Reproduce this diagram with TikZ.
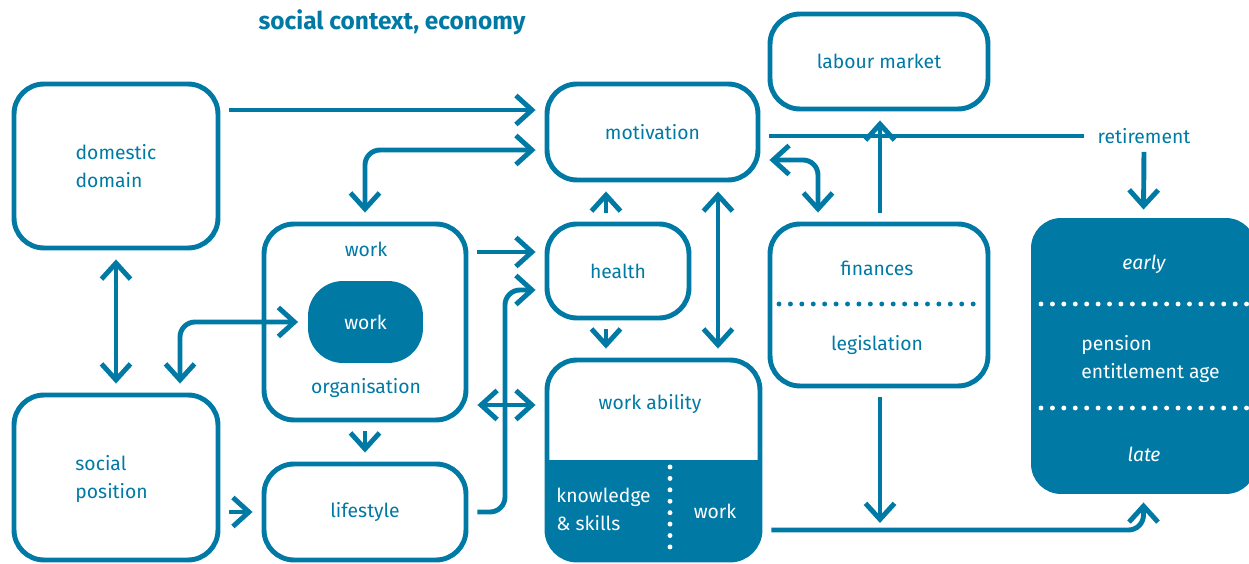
\documentclass[tikz,border=0pt]{standalone}
\usepackage{fontspec}
\setmainfont{Fira Sans}
\usetikzlibrary{arrows.meta}
\definecolor{bmblue}{RGB}{0,121,164}

\begin{document}
\begin{tikzpicture}[x=0.02cm, y=-0.02cm, line width=2.8pt,
  every node/.style={font=\fontsize{11}{16}\selectfont},
  box/.style={draw=bmblue, rounded corners=0.6cm, text=bmblue, align=left, inner sep=0pt},
  solidbox/.style={fill=bmblue, rounded corners=0.6cm, text=white, inner sep=0pt},
  lbl/.style={text=bmblue},
  wlbl/.style={text=white},
  con/.style={draw=bmblue, shorten <=0.18cm, shorten >=0.18cm},
  arr/.style={con, -{Straight Barb[length=3.2mm,width=5.8mm]}},
  dbl/.style={con, {Straight Barb[length=3.2mm,width=5.8mm]}-{Straight Barb[length=3.2mm,width=5.8mm]}},
  dotline/.style={line cap=round, dash pattern=on 0pt off 6.5pt}]
\useasboundingbox (0,0) rectangle (1249,564);
\node[lbl, font=\bfseries\fontsize{13.9}{16}\selectfont] (ttl) at (392,22) {social context, economy};
\node[box, minimum width=4.08cm, minimum height=3.28cm] (dom) at (116,166) {domestic\\domain};
\node[box, minimum width=4.08cm, minimum height=3.3cm] (soc) at (116,477.5) {};
\node[lbl, anchor=west, align=left, inner sep=0pt] (soctxt) at (73,479) {social\\position};
\node[box, minimum width=4.22cm, minimum height=1.92cm] (mot) at (652.5,132) {motivation};
\node[box, minimum width=4.36cm, minimum height=1.9cm] (lab) at (879,61.5) {labour market};
\node[box, minimum width=4.04cm, minimum height=3.92cm] (org) at (365,322) {};
\node[lbl] (orgtop) at (366,249) {work};
\node[lbl] (orgbot) at (366,388) {organisation};
\node[solidbox, rounded corners=0.7cm, minimum width=2.3cm, minimum height=1.64cm] (wrk) at (365.5,322) {work};
\node[box, minimum width=2.84cm, minimum height=1.88cm] (hlth) at (618,271) {health};
\node[box, minimum width=4.04cm, minimum height=1.92cm] (life) at (365,512) {lifestyle};
\node[box, minimum width=4.26cm, minimum height=4cm,
  path picture={\fill[bmblue, sharp corners] (path picture bounding box.south west) rectangle (path picture bounding box.east);}] (wab) at (653.5,460) {};
\node[lbl] (wabtop) at (650,404) {work ability};
\node[wlbl, anchor=west, align=left, inner sep=0pt] (know) at (554,509) {knowledge\\\& skills};
\node[wlbl] (wabwrk) at (715,511) {work};
\draw[white, dotline] (670,467) -- (670,556);
\node[box, minimum width=4.36cm, minimum height=3.24cm] (fin) at (879,305) {};
\node[lbl] (fintop) at (877,268) {finances};
\node[lbl] (finbot) at (877,345) {legislation};
\draw[bmblue, dotline] (779,304) -- (982,304);
\node[solidbox, minimum width=4.5cm, minimum height=5.52cm] (pen) at (1143.5,356) {};
\node[wlbl, font=\itshape\fontsize{11}{16}\selectfont] (early) at (1144,264) {early};
\node[wlbl, anchor=west, align=left, inner sep=0pt] (age) at (1079,359) {pension\\entitlement age};
\node[wlbl, font=\itshape\fontsize{11}{16}\selectfont] (late) at (1144,454) {late};
\draw[white, dotline] (1041,304) -- (1249,304);
\draw[white, dotline] (1041,408) -- (1249,408);
\node[lbl] (ret) at (1144,136) {retirement};
\coordinate (jn) at (880,523);

\draw[arr] (dom.east |- 0,110) -- (mot.west |- 0,110);
\draw[dbl, rounded corners=0.3cm] (mot.west |- 0,150) -| (org.north);
\draw[dbl] (dom.south) -- (soc.north);
\draw[dbl, rounded corners=0.3cm, shorten >=0.15cm] (soc.north -| 180,0) |- (wrk.west);
\draw[arr] (org.east |- 0,252) -- (hlth.west |- 0,252);
\draw[arr, rounded corners=0.3cm] (life.east) -| (505,290) -- (hlth.west |- 0,290);
\draw[dbl] (org.east |- 0,405) -- (wab.west |- 0,405);
\draw[arr] (org.south) -- (life.north);
\draw[arr] (soc.east |- 0,512) -- (life.west |- 0,512);
\draw[arr] (hlth.north -| 606,0) -- (mot.south -| 606,0);
\draw[arr] (hlth.south -| 606,0) -- (wab.north -| 606,0);
\draw[dbl] (mot.south -| 718,0) -- (wab.north -| 718,0);
\draw[dbl, rounded corners=0.3cm] (mot.east |- 0,160) -| (fin.north -| 818,0);
\draw[arr] (fin.north -| 880,0) -- (lab.south -| 880,0);
\draw[con, shorten >=0.1cm] (mot.east |- 0,136) -- (ret.west);
\draw[arr, shorten <=0pt, shorten >=0.12cm] (ret.south) -- (pen.north);
\draw[arr, rounded corners=0.3cm, shorten >=0.12cm] (wab.east |- 0,530) -| (pen.south);
\draw[arr, shorten >=0pt] (fin.south -| 880,0) -- (jn);
\end{tikzpicture}
\end{document}
